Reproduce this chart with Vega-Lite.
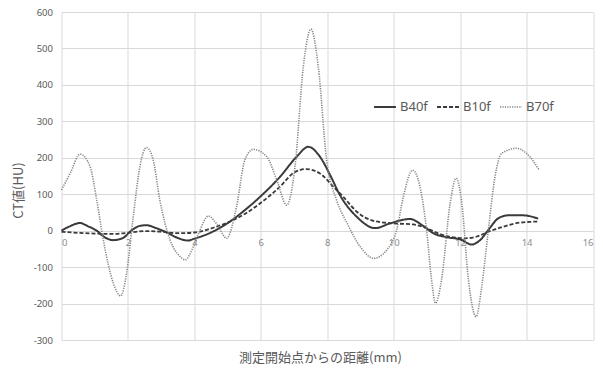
{
  "$schema": "https://vega.github.io/schema/vega-lite/v6.json",
  "width": 531.5,
  "height": 328,
  "autosize": {"type": "none"},
  "padding": {"left": 61.5, "top": 12, "right": 10, "bottom": 31},
  "background": "white",
  "config": {
    "view": {"stroke": null},
    "font": "Noto Sans",
    "axis": {"gridColor": "#d9d9d9", "gridWidth": 1, "domain": false, "ticks": false, "labelColor": "#595959", "labelFontSize": 9.5, "titleColor": "#595959", "titleFontWeight": "normal"}
  },
  "data": {
    "values": [
      {"s": "B40f", "x": 0, "y": 0}, {"s": "B40f", "x": 0.25, "y": 12}, {"s": "B40f", "x": 0.55, "y": 21}, {"s": "B40f", "x": 0.8, "y": 12}, {"s": "B40f", "x": 1.06, "y": 0}, {"s": "B40f", "x": 1.3, "y": -18}, {"s": "B40f", "x": 1.56, "y": -26}, {"s": "B40f", "x": 1.85, "y": -20}, {"s": "B40f", "x": 2.1, "y": 0}, {"s": "B40f", "x": 2.35, "y": 13}, {"s": "B40f", "x": 2.56, "y": 15}, {"s": "B40f", "x": 2.85, "y": 7}, {"s": "B40f", "x": 3.17, "y": -5}, {"s": "B40f", "x": 3.5, "y": -20}, {"s": "B40f", "x": 3.8, "y": -27}, {"s": "B40f", "x": 4.0, "y": -22}, {"s": "B40f", "x": 4.5, "y": -5}, {"s": "B40f", "x": 5.07, "y": 25}, {"s": "B40f", "x": 5.5, "y": 55}, {"s": "B40f", "x": 5.98, "y": 93}, {"s": "B40f", "x": 6.58, "y": 148}, {"s": "B40f", "x": 7.08, "y": 203}, {"s": "B40f", "x": 7.43, "y": 230}, {"s": "B40f", "x": 7.78, "y": 203}, {"s": "B40f", "x": 8.1, "y": 150}, {"s": "B40f", "x": 8.38, "y": 98}, {"s": "B40f", "x": 8.89, "y": 38}, {"s": "B40f", "x": 9.44, "y": 7}, {"s": "B40f", "x": 9.89, "y": 20}, {"s": "B40f", "x": 10.49, "y": 32}, {"s": "B40f", "x": 10.89, "y": 13}, {"s": "B40f", "x": 11.19, "y": -7}, {"s": "B40f", "x": 11.6, "y": -18}, {"s": "B40f", "x": 12.0, "y": -24}, {"s": "B40f", "x": 12.35, "y": -38}, {"s": "B40f", "x": 12.6, "y": -26}, {"s": "B40f", "x": 12.85, "y": 2}, {"s": "B40f", "x": 13.15, "y": 34}, {"s": "B40f", "x": 13.45, "y": 42}, {"s": "B40f", "x": 13.9, "y": 42}, {"s": "B40f", "x": 14.35, "y": 33},
      {"s": "B10f", "x": 0, "y": -3}, {"s": "B10f", "x": 0.5, "y": -6}, {"s": "B10f", "x": 1, "y": -8}, {"s": "B10f", "x": 1.5, "y": -9}, {"s": "B10f", "x": 1.9, "y": -7}, {"s": "B10f", "x": 2.5, "y": -1}, {"s": "B10f", "x": 3.0, "y": -3}, {"s": "B10f", "x": 3.5, "y": -7}, {"s": "B10f", "x": 4.0, "y": -5}, {"s": "B10f", "x": 4.57, "y": 8}, {"s": "B10f", "x": 5.07, "y": 25}, {"s": "B10f", "x": 5.5, "y": 45}, {"s": "B10f", "x": 5.98, "y": 75}, {"s": "B10f", "x": 6.58, "y": 121}, {"s": "B10f", "x": 6.98, "y": 158}, {"s": "B10f", "x": 7.36, "y": 169}, {"s": "B10f", "x": 7.78, "y": 157}, {"s": "B10f", "x": 8.18, "y": 121}, {"s": "B10f", "x": 8.48, "y": 93}, {"s": "B10f", "x": 8.89, "y": 52}, {"s": "B10f", "x": 9.39, "y": 27}, {"s": "B10f", "x": 9.99, "y": 20}, {"s": "B10f", "x": 10.59, "y": 17}, {"s": "B10f", "x": 10.99, "y": 7}, {"s": "B10f", "x": 11.3, "y": -6}, {"s": "B10f", "x": 11.6, "y": -15}, {"s": "B10f", "x": 12.15, "y": -21}, {"s": "B10f", "x": 12.5, "y": -16}, {"s": "B10f", "x": 12.85, "y": -3}, {"s": "B10f", "x": 13.3, "y": 11}, {"s": "B10f", "x": 13.8, "y": 22}, {"s": "B10f", "x": 14.35, "y": 25},
      {"s": "B70f", "x": 0, "y": 112}, {"s": "B70f", "x": 0.26, "y": 157}, {"s": "B70f", "x": 0.56, "y": 210}, {"s": "B70f", "x": 0.86, "y": 176}, {"s": "B70f", "x": 1.06, "y": 84}, {"s": "B70f", "x": 1.26, "y": -26}, {"s": "B70f", "x": 1.56, "y": -144}, {"s": "B70f", "x": 1.78, "y": -179}, {"s": "B70f", "x": 1.96, "y": -117}, {"s": "B70f", "x": 2.16, "y": 38}, {"s": "B70f", "x": 2.36, "y": 176}, {"s": "B70f", "x": 2.56, "y": 228}, {"s": "B70f", "x": 2.76, "y": 194}, {"s": "B70f", "x": 2.96, "y": 84}, {"s": "B70f", "x": 3.27, "y": -26}, {"s": "B70f", "x": 3.57, "y": -71}, {"s": "B70f", "x": 3.72, "y": -80}, {"s": "B70f", "x": 3.97, "y": -44}, {"s": "B70f", "x": 4.17, "y": 2}, {"s": "B70f", "x": 4.42, "y": 40}, {"s": "B70f", "x": 4.7, "y": 15}, {"s": "B70f", "x": 4.97, "y": -21}, {"s": "B70f", "x": 5.27, "y": 66}, {"s": "B70f", "x": 5.52, "y": 194}, {"s": "B70f", "x": 5.77, "y": 223}, {"s": "B70f", "x": 6.18, "y": 203}, {"s": "B70f", "x": 6.48, "y": 139}, {"s": "B70f", "x": 6.78, "y": 70}, {"s": "B70f", "x": 7.03, "y": 176}, {"s": "B70f", "x": 7.28, "y": 450}, {"s": "B70f", "x": 7.51, "y": 553}, {"s": "B70f", "x": 7.73, "y": 450}, {"s": "B70f", "x": 7.98, "y": 194}, {"s": "B70f", "x": 8.28, "y": 84}, {"s": "B70f", "x": 8.6, "y": 20}, {"s": "B70f", "x": 9.0, "y": -45}, {"s": "B70f", "x": 9.4, "y": -76}, {"s": "B70f", "x": 9.79, "y": -53}, {"s": "B70f", "x": 10.09, "y": 2}, {"s": "B70f", "x": 10.29, "y": 93}, {"s": "B70f", "x": 10.57, "y": 166}, {"s": "B70f", "x": 10.79, "y": 121}, {"s": "B70f", "x": 10.99, "y": 2}, {"s": "B70f", "x": 11.14, "y": -135}, {"s": "B70f", "x": 11.26, "y": -199}, {"s": "B70f", "x": 11.44, "y": -135}, {"s": "B70f", "x": 11.7, "y": 75}, {"s": "B70f", "x": 11.88, "y": 144}, {"s": "B70f", "x": 12.05, "y": 75}, {"s": "B70f", "x": 12.25, "y": -135}, {"s": "B70f", "x": 12.48, "y": -236}, {"s": "B70f", "x": 12.65, "y": -154}, {"s": "B70f", "x": 12.85, "y": 2}, {"s": "B70f", "x": 13.05, "y": 148}, {"s": "B70f", "x": 13.25, "y": 212}, {"s": "B70f", "x": 13.7, "y": 226}, {"s": "B70f", "x": 14.0, "y": 212}, {"s": "B70f", "x": 14.37, "y": 168}
    ]
  },
  "layer": [
    {
      "mark": {"type": "line", "interpolate": "monotone"},
      "encoding": {
        "x": {"field": "x", "type": "quantitative", "scale": {"domain": [0, 16], "nice": false},
          "axis": {"orient": "bottom", "values": [0, 2, 4, 6, 8, 10, 12, 14, 16], "labels": false, "grid": true, "title": "測定開始点からの距離(mm)", "titleFont": "Noto Sans CJK JP", "titleFontSize": 13, "titleX": 258.5, "titleY": 17, "titleBaseline": "middle", "titleAnchor": null}},
        "y": {"field": "y", "type": "quantitative", "scale": {"domain": [-300, 600], "nice": false},
          "axis": {"orient": "left", "values": [-300, -200, -100, 0, 100, 200, 300, 400, 500, 600], "labelExpr": "replace(datum.label, '−', '-')", "labelPadding": 9, "title": "CT値(HU)", "titleFont": "Noto Sans CJK JP", "titleFontSize": 13, "titleX": -43.5, "titleY": 178, "titleAngle": -90, "titleBaseline": "middle", "titleAnchor": null}},
        "detail": {"field": "s"},
        "color": {"field": "s", "type": "nominal", "scale": {"domain": ["B40f", "B10f", "B70f"], "range": ["#3a3a3a", "#3a3a3a", "#858585"]},
          "legend": {"title": null, "orient": "none", "legendX": 311.5, "legendY": 83, "direction": "horizontal", "symbolType": "stroke", "symbolSize": 480, "labelFontSize": 13, "labelColor": "#595959", "labelOffset": 3, "columnPadding": 5, "symbolStrokeWidth": 2}},
        "strokeDash": {"field": "s", "type": "nominal", "scale": {"domain": ["B40f", "B10f", "B70f"], "range": [[1, 0], [4, 2], [1.2, 1.2]]}},
        "strokeWidth": {"field": "s", "type": "nominal", "scale": {"domain": ["B40f", "B10f", "B70f"], "range": [2, 1.6, 1.2]}}
      }
    },
    {
      "mark": {"type": "point", "opacity": 0},
      "encoding": {
        "x": {"field": "x", "type": "quantitative",
          "axis": {"orient": "bottom", "values": [0, 2, 4, 6, 8, 10, 12, 14, 16], "grid": false, "offset": -109.3, "labelPadding": 7, "labelColor": "#8c8c8c", "title": null}},
        "y": {"field": "y", "type": "quantitative", "axis": null}
      }
    }
  ],
  "resolve": {"axis": {"x": "independent", "y": "independent"}}
}
